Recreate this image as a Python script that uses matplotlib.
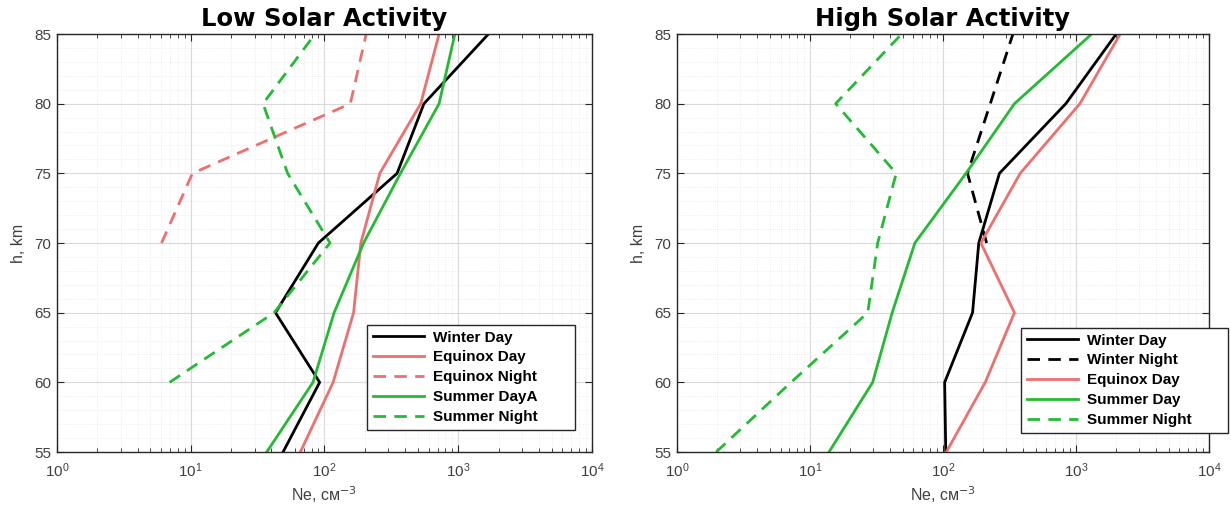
import matplotlib
matplotlib.use("Agg")
import matplotlib.pyplot as plt
from matplotlib.ticker import MultipleLocator

plt.rcParams['font.family'] = ['Liberation Sans', 'DejaVu Sans']

heights = [55, 60, 65, 70, 75, 80, 85]

# Low solar activity
low_winter_day = [49, 92, 43, 90, 349, 554, 1683]
low_equinox_day = [66, 116, 165, 187, 259, 524, 719]
low_equinox_night_h = [70, 75, 80, 85]
low_equinox_night = [6.05, 10.3, 156, 205]
low_summer_day = [37, 82, 118, 196, 370, 719, 944]
low_summer_night_h = [60, 65, 70, 75, 80, 85]
low_summer_night = [6.95, 42, 110, 53, 34.7, 85]

# High solar activity
high_winter_day = [105, 103, 167, 186, 266, 840, 2010]
high_winter_night_h = [70, 75, 80, 85]
high_winter_night = [213, 153, 227, 336]
high_equinox_day = [106, 208, 345, 193, 381, 1072, 2153]
high_summer_day = [13.9, 29.6, 41.5, 61.5, 149, 345, 1315]
high_summer_night = [1.97, 7.2, 27.2, 32.3, 44.5, 15.6, 48.9]

RED = '#ef6f6f'
GREEN = '#22bb33'

fig = plt.figure(figsize=(12.31, 5.13), dpi=100)
ax1 = fig.add_axes([0.0463, 0.1189, 0.4346, 0.8148])
ax2 = fig.add_axes([0.55, 0.1189, 0.432, 0.8148])

lw = 2.0
dash = (0, (4.5, 3))

ax1.plot(low_winter_day, heights, color='black', lw=lw, label='Winter Day')
ax1.plot(low_equinox_day, heights, color=RED, lw=lw, label='Equinox Day')
ax1.plot(low_equinox_night, low_equinox_night_h, color=RED, lw=lw, ls=dash, label='Equinox Night')
ax1.plot(low_summer_day, heights, color=GREEN, lw=lw, label='Summer DayA')
ax1.plot(low_summer_night, low_summer_night_h, color=GREEN, lw=lw, ls=dash, label='Summer Night')

ax2.plot(high_winter_day, heights, color='black', lw=lw, label='Winter Day')
ax2.plot(high_winter_night, high_winter_night_h, color='black', lw=lw, ls=dash, label='Winter Night')
ax2.plot(high_equinox_day, heights, color=RED, lw=lw, label='Equinox Day')
ax2.plot(high_summer_day, heights, color=GREEN, lw=lw, label='Summer Day')
ax2.plot(high_summer_night, heights, color=GREEN, lw=lw, ls=dash, label='Summer Night')

for ax, title in [(ax1, 'Low Solar Activity'), (ax2, 'High Solar Activity')]:
    ax.set_xscale('log')
    ax.set_xlim(1, 1e4)
    ax.set_ylim(55, 85)
    ax.set_yticks(heights)
    ax.yaxis.set_minor_locator(MultipleLocator(1))
    ax.grid(True, which='major', color='#d9d9d9', lw=0.8)
    ax.grid(True, which='minor', color='#e8e8e8', lw=0.6, ls=':')
    ax.tick_params(which='both', direction='in', top=True, right=True, colors='#262626',
                   labelcolor='#404040', labelsize=11)
    ax.tick_params(axis='x', which='major', length=5, pad=7)
    ax.tick_params(axis='x', which='minor', length=3)
    ax.tick_params(axis='y', which='major', length=5, pad=4)
    ax.tick_params(axis='y', which='minor', length=0)
    for s in ax.spines.values():
        s.set_color('#262626')
        s.set_linewidth(1.0)
    ax.set_title(title, fontsize=17.5, fontweight='heavy', family=['DejaVu Sans'], pad=6)
    ax.set_xlabel('Ne, см$^{-3}$', fontsize=11.5, color='#404040', labelpad=3)
    ax.set_ylabel('h, km', fontsize=11.5, color='#404040', labelpad=6)

leg_kw = dict(loc='lower left', handlelength=3.3, frameon=True, fancybox=False,
              edgecolor='#262626', framealpha=1, borderpad=0.4, labelspacing=0.38,
              handletextpad=0.6, mode='expand', borderaxespad=0,
              prop={'weight': 'bold', 'size': 11})
l1 = ax1.legend(bbox_to_anchor=(367 / 1231, 83 / 513, 208 / 1231, 105 / 513),
                bbox_transform=fig.transFigure, **leg_kw)
l2 = ax2.legend(bbox_to_anchor=(1021 / 1231, 80 / 513, 207 / 1231, 106 / 513),
                bbox_transform=fig.transFigure, **leg_kw)
for l in (l1, l2):
    l.get_frame().set_linewidth(1.0)

plt.savefig('out.png', dpi=100)
